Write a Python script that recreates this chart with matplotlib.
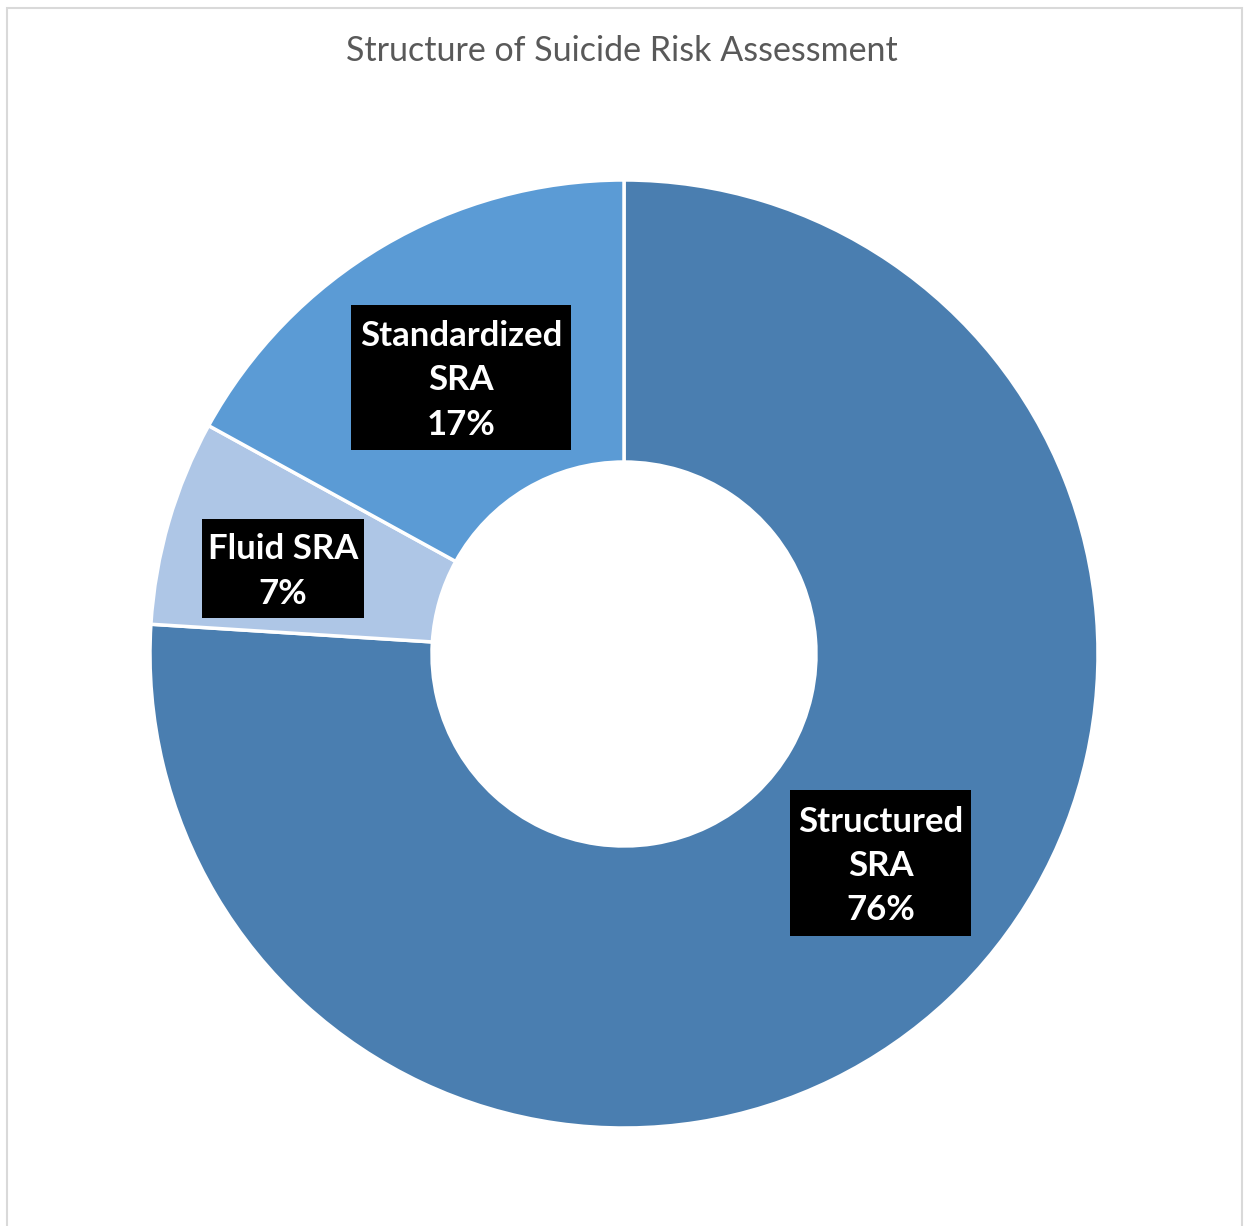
import matplotlib
matplotlib.use("Agg")
import matplotlib.pyplot as plt
from matplotlib.patches import Rectangle

title = "Structure of Suicide Risk Assessment"
categories = ["Structured SRA", "Fluid SRA", "Standardized SRA"]
shares = [76, 7, 17]
label_texts = ["Structured\nSRA\n76%", "Fluid SRA\n7%", "Standardized\nSRA\n17%"]
colors = ["#4A7EB0", "#AEC6E6", "#5B9BD5"]

W, H = 1244, 1226
fig = plt.figure(figsize=(W / 100, H / 100), dpi=100)
ax = fig.add_axes([0, 0, 1, 1])
ax.set_xlim(0, W)
ax.set_ylim(0, H)
ax.set_aspect("equal")
ax.axis("off")

# chart frame
ax.plot([6.5, 6.5, 1241.5, 1241.5], [-5, H - 7.5, H - 7.5, -5],
        color="#D9D9D9", lw=1.5, solid_joinstyle="miter")

cx, cy = 624, H - 654
r_out, r_in = 474, 192
ax.pie(shares, colors=colors, startangle=90, counterclock=False,
       center=(cx, cy), radius=r_out, frame=True,
       wedgeprops=dict(width=r_out - r_in, edgecolor="white", linewidth=2.5))
ax.set_xlim(0, W)
ax.set_ylim(0, H)
ax.axis("off")

ax.text(W / 2, H - 51, title, ha="center", va="center",
        fontsize=24.5, color="#595959", family="Lato")

# data label boxes: (center x, center y, width, height) in pixels
label_boxes = [(880.5, 863, 181, 146), (283, 568.5, 162, 99), (461, 377.5, 220, 145)]
for (bx, by, bw, bh), txt in zip(label_boxes, label_texts):
    ax.add_patch(Rectangle((bx - bw / 2, H - by - bh / 2), bw, bh,
                           facecolor="black", edgecolor="none", zorder=3))
    ax.text(bx, H - by - 3, txt, ha="center", va="center", color="white",
            fontsize=25, fontweight="bold", family="Lato",
            linespacing=1.48, zorder=4)

fig.savefig("out.png", dpi=100, facecolor="white")
